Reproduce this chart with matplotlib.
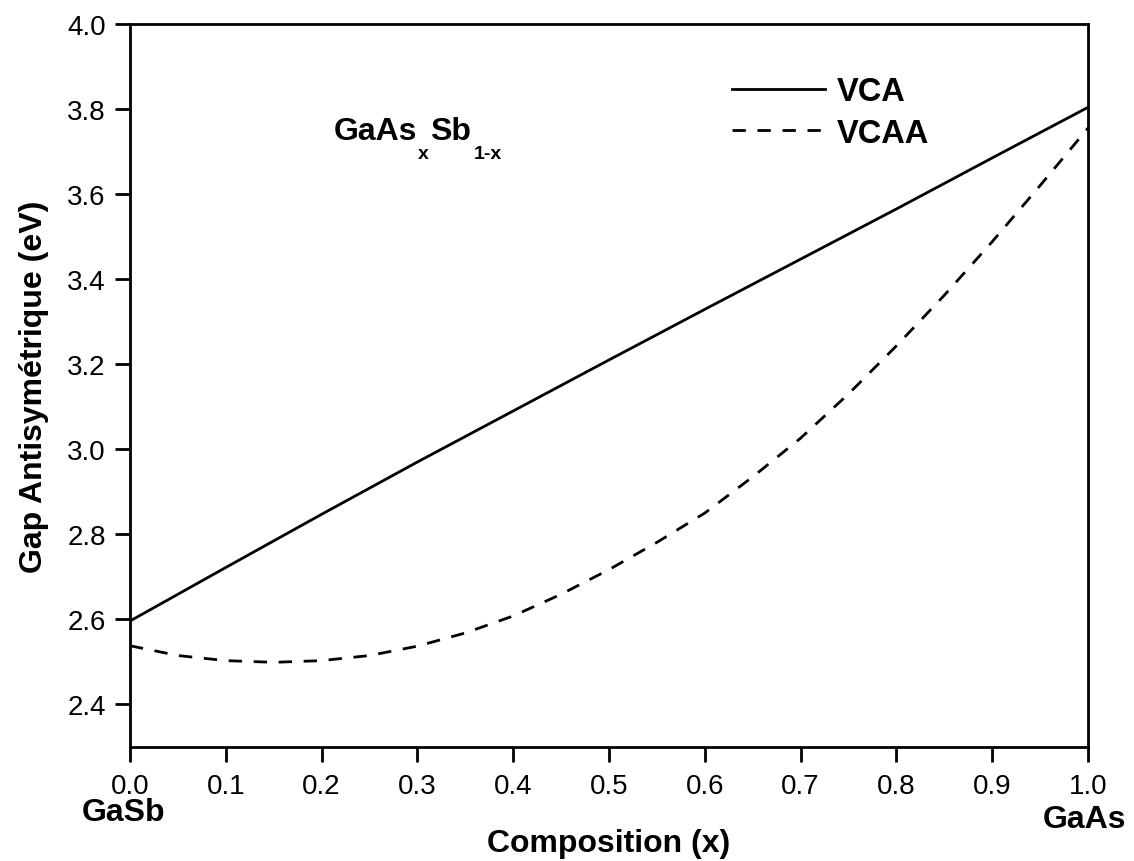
import matplotlib
matplotlib.use("Agg")
import matplotlib.pyplot as plt

plt.rcParams['font.family'] = ['Liberation Sans', 'DejaVu Sans']

# composition x (GaSb -> GaAs)
x_vca = [0.0, 0.1, 0.2, 0.3, 0.4, 0.5, 0.6, 0.7, 0.8, 0.9, 1.0]
gap_vca = [2.596, 2.722, 2.847, 2.970, 3.090, 3.210, 3.329, 3.447, 3.565, 3.685, 3.804]

x_vcaa = [0.0, 0.05, 0.1, 0.15, 0.2, 0.25, 0.3, 0.35, 0.4, 0.45, 0.5,
          0.55, 0.6, 0.65, 0.7, 0.75, 0.8, 0.85, 0.9, 0.95, 1.0]
gap_vcaa = [2.538, 2.515, 2.503, 2.499, 2.503, 2.515, 2.537, 2.568, 2.608, 2.659, 2.717,
            2.781, 2.850, 2.935, 3.026, 3.130, 3.243, 3.362, 3.488, 3.620, 3.755]

xticks = [0.0, 0.1, 0.2, 0.3, 0.4, 0.5, 0.6, 0.7, 0.8, 0.9, 1.0]
yticks = [2.4, 2.6, 2.8, 3.0, 3.2, 3.4, 3.6, 3.8, 4.0]

fig = plt.figure(figsize=(11.34, 8.62), dpi=100)
ax = fig.add_axes([0.1146, 0.1323, 0.8448, 0.8387])

ax.plot(x_vca, gap_vca, color='black', lw=2.0, label='VCA')
ax.plot(x_vcaa, gap_vcaa, color='black', lw=2.0, dashes=(4.8, 4.2), label='VCAA')

ax.set_xlim(0, 1)
ax.set_ylim(2.3, 4.0)
ax.set_xticks(xticks)
ax.set_yticks(yticks)
ax.set_xticklabels(['%.1f' % v for v in xticks])
ax.set_yticklabels(['%.1f' % v for v in yticks])

for s in ax.spines.values():
    s.set_linewidth(2.0)
ax.tick_params(axis='both', direction='out', length=10.5, width=2.0, labelsize=20)
ax.tick_params(axis='x', pad=8)
ax.tick_params(axis='y', pad=7)

ax.set_xlabel('Composition (x)', fontsize=23, fontweight='bold')
ax.set_ylabel('Gap Antisymétrique (eV)', fontsize=23, fontweight='bold')
ax.xaxis.set_label_coords(0.5, -0.112)
ax.yaxis.set_label_coords(-0.085, 0.5)

# end compounds under the axis
ax.text(-0.007, -0.09, 'GaSb', transform=ax.get_xaxis_transform(),
        ha='center', va='center', fontsize=23, fontweight='bold')
ax.text(0.996, -0.10, 'GaAs', transform=ax.get_xaxis_transform(),
        ha='center', va='center', fontsize=23, fontweight='bold')

# alloy formula with subscripts
t1 = ax.text(0.213, 3.729, 'GaAs', fontsize=23, fontweight='bold', va='baseline')
ax.annotate('x', xy=(1, 0), xycoords=t1, xytext=(0.5, 1), textcoords='offset points',
            fontsize=14, fontweight='bold', va='top', ha='left')
t3 = ax.annotate('Sb', xy=(1, 0), xycoords=t1, xytext=(9, 0), textcoords='offset points',
                 fontsize=23, fontweight='bold', va='bottom', ha='left')
ax.annotate('1-x', xy=(1, 0), xycoords=t3, xytext=(2, 1), textcoords='offset points',
            fontsize=14, fontweight='bold', va='top', ha='left')

leg = ax.legend(loc='upper left', bbox_to_anchor=(732 / 1134, 1 - 77 / 862),
                bbox_transform=fig.transFigure, frameon=False, borderpad=0,
                borderaxespad=0, handlelength=2.85, handletextpad=0.35,
                labelspacing=0.33, prop={'size': 23.5, 'weight': 'bold'})

fig.savefig('out.png', dpi=100)
